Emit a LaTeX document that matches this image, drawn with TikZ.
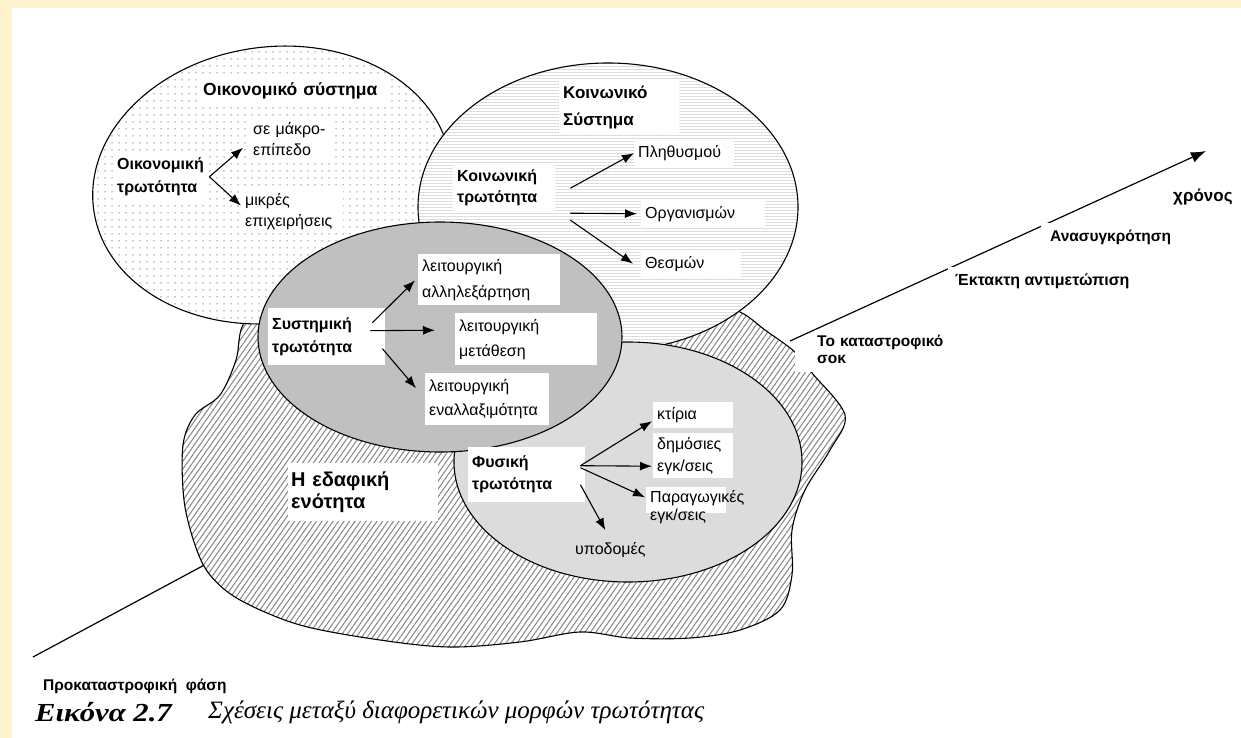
\documentclass[tikz,border=0pt]{standalone}
\usepackage{graphicx}
\usepackage{fontspec}
\setmainfont{Liberation Sans}
\newfontfamily\capfont{Liberation Serif}
\usetikzlibrary{patterns.meta,arrows.meta,calc}
\definecolor{cream}{HTML}{FFF3CD}
\definecolor{sysgray}{HTML}{C0C0C0}
\definecolor{phygray}{HTML}{DCDCDC}
\definecolor{hatchc}{HTML}{858585}
\newcommand{\myfs}[2]{\fontsize{#1}{#2}\selectfont}
\begin{document}
\begin{tikzpicture}[x=1pt,y=-1pt,
  ell/.style={draw=black, line width=1.1pt},
  arr/.style={-{Latex[length=12pt,width=9pt]}, line width=1.1pt},
  tb/.style={fill=white, inner xsep=4pt, inner ysep=0pt, anchor=north west, align=left},
  tt/.style={inner sep=0pt, anchor=west},
  reg/.style={font=\myfs{16}{21}},
  bld/.style={font=\myfs{16}{22}\bfseries},
  tl/.style={font=\myfs{16}{18}\bfseries},
]
% background
\fill[cream] (0,0) rectangle (1241,738);
\fill[white] (12,8) rectangle (1241,738);
\useasboundingbox (0,0) rectangle (1241,738);

% timeline, left part
\coordinate (t0) at (33,657);
\coordinate (t1) at (210,562);
\draw[line width=1.2pt] (t0) -- (t1);

% territorial blob
\draw[line width=1.1pt, preaction={fill=white},
      pattern={Lines[angle=55,distance=4.5pt,line width=1pt]}, pattern color=hatchc]
  plot[smooth cycle, tension=0.55] coordinates {
   (270,300) (243,325) (236,360) (220,395) (195,415) (183,445) (184,500)
   (195,545) (210,575) (240,600) (300,625) (380,640) (450,647) (520,642)
   (580,632) (630,638) (690,638) (740,630) (780,610) (792,575) (792,530)
   (805,490) (830,450) (845,415) (812,373) (795,352) (765,330) (740,312)
   (700,300) (500,300)};

% economic system
\draw[ell, preaction={fill=white}, pattern={Dots[distance=7pt,radius=0.75pt]}, pattern color=gray!90,
      rotate around={8:(272,185)}]
  (272,185) ellipse [x radius=180pt, y radius=138pt];
% social system
\draw[ell, preaction={fill=white}, pattern={Lines[angle=0,distance=3pt,line width=0.8pt]}, pattern color=gray!30]
  (608,207) ellipse [x radius=190pt, y radius=144pt];
% physical
\draw[ell, fill=phygray] (628,462) ellipse [x radius=174pt, y radius=120pt];
% systemic
\draw[ell, fill=sysgray] (440,337) ellipse [x radius=182pt, y radius=115pt];

% economic texts
\node[tb, text width=180pt, minimum height=25pt, font=\myfs{17.5}{20}\bfseries] (econT) at (199,78) {Οικονομικό σύστημα};
\node[tb, text width=88pt, minimum height=47pt, font=\myfs{16}{23}\bfseries] (econV) at (113,153) {Οικονομική\\τρωτότητα};
\node[tb, reg, text width=76pt, minimum height=43pt] (econM) at (249,117) {σε μάκρο-\\επίπεδο};
\node[tb, reg, text width=94pt, minimum height=43pt] (econS) at (241,190) {μικρές\\επιχειρήσεις};
\draw[arr] (econV.east) -- ($(econM.west)+(-6,9)$);
\draw[arr] (econV.east) -- ($(econS.west)+(0,-6)$);

% social texts
\node[tb, text width=112pt, minimum height=55pt, font=\myfs{17}{27}\bfseries] (socT) at (559,80) {Κοινωνικό\\Σύστημα};
\node[tb, text width=94pt, minimum height=46pt, font=\myfs{16}{21}\bfseries] (socV) at (453,165) {Κοινωνική\\τρωτότητα};
\node[tb, reg, text width=92pt, minimum height=26pt] (socP) at (634,140) {Πληθυσμού};
\node[tb, reg, text width=116pt, minimum height=27pt] (socO) at (641,200) {Οργανισμών};
\node[tb, reg, text width=92pt, minimum height=27pt] (socTh) at (641,250) {Θεσμών};
\draw[arr] ($(socV.east)+(15,0)$) -- (socP.west);
\draw[arr] ($(socV.east)+(15,25)$) -- ($(socO.west)+(-4,0)$);
\draw[arr] ($(socV.east)+(15,32)$) -- ($(socTh.west)+(-8,0)$);

% systemic texts
\node[tb, text width=109pt, minimum height=57pt, font=\myfs{16}{23}\bfseries] (sysV) at (268,308) {Συστημική\\τρωτότητα};
\node[tb, text width=134pt, minimum height=51pt, font=\myfs{16}{26}] (sysA) at (418,254) {λειτουργική\\αλληλεξάρτηση};
\node[tb, text width=134pt, minimum height=52pt, font=\myfs{16}{25}] (sysM) at (455,313) {λειτουργική\\μετάθεση};
\node[tb, text width=116pt, minimum height=52pt, font=\myfs{16}{24}] (sysE) at (425,373) {λειτουργική\\εναλλαξιμότητα};
\draw[arr] ($(sysV.east)+(-13,-14)$) -- ($(sysA.south west)+(-3,-25)$);
\draw[arr] ($(sysV.east)+(-15,-6)$) -- ($(sysM.west)+(-20,-9)$);
\draw[arr] ($(sysV.east)+(-3,12)$) -- ($(sysE.west)+(-9,-11)$);

% physical texts
\node[tb, bld, text width=109pt, minimum height=55pt] (phyV) at (468,447) {Φυσική\\τρωτότητα};
\node[tb, reg, text width=72pt, minimum height=26pt] (phyK) at (653,402) {κτίρια};
\node[tb, reg, text width=72pt, minimum height=45pt, font=\myfs{16}{22}] (phyD) at (653,433) {δημόσιες\\εγκ/σεις};
\node[fill=white, inner sep=0pt, anchor=north west, minimum width=80pt, minimum height=26pt] (phyPb) at (646,487) {};
\node[tt, anchor=north west, align=left, font=\myfs{16}{18}] (phyP) at (650,490) {Παραγωγικές\\εγκ/σεις};
\node[tt, reg] (phyU) at (575,550) {υποδομές};
\draw[arr] ($(phyV.east)+(-5,-9)$) -- ($(phyK.west)+(-1,6)$);
\draw[arr] ($(phyV.east)+(-5,-9)$) -- ($(phyD.west)+(-1,10.5)$);
\draw[arr] ($(phyV.east)+(-5,-7)$) -- ($(phyPb.west)+(-1,-3)$);
\draw[arr] ($(phyV.east)+(-5,10)$) -- ($(phyU.north)+(-5,-12)$);

% territorial unit
\node[tb, text width=144pt, minimum height=58pt, inner xsep=3pt, font=\myfs{20}{22}\bfseries] (terr) at (288,463) {Η εδαφική\\ενότητα};

% timeline labels and right part
\node[tb, inner xsep=0pt, text width=150pt, minimum height=46pt, font=\myfs{15.5}{17}\bfseries] (shock) at (795,326) {\hspace*{22pt}Το καταστροφικό\\\hspace*{22pt}σοκ};
\coordinate (t2) at (790,341);
\coordinate (t3) at (1206,151);
\draw[line width=1.2pt, -{Latex[length=15pt,width=11pt]}] (t2) -- (t3);
\node[tb, tl, inner xsep=7pt, minimum height=30pt] (emerg) at (948,266.5) {Έκτακτη αντιμετώπιση};
\node[tb, inner xsep=9pt, minimum height=29pt, font=\myfs{15.5}{18}\bfseries] (recon) at (1041,222.5) {Ανασυγκρότηση};
\node[tt, font=\myfs{17}{18}\bfseries] (time) at (1173,197) {χρόνος};
\node[tt, font=\myfs{15.5}{16}\bfseries] (pre) at (43,686) {Προκαταστροφική\ \ φάση};

% caption
\node[tt, font=\capfont\myfs{26}{28}\bfseries\itshape] (capA) at (35,712) {\scalebox{1.18}[1]{Εικόνα 2.7}};
\node[tt, font=\capfont\myfs{25}{28}\itshape] (capB) at (208,712) {Σχέσεις μεταξύ διαφορετικών μορφών τρωτότητας};
\end{tikzpicture}
\end{document}
